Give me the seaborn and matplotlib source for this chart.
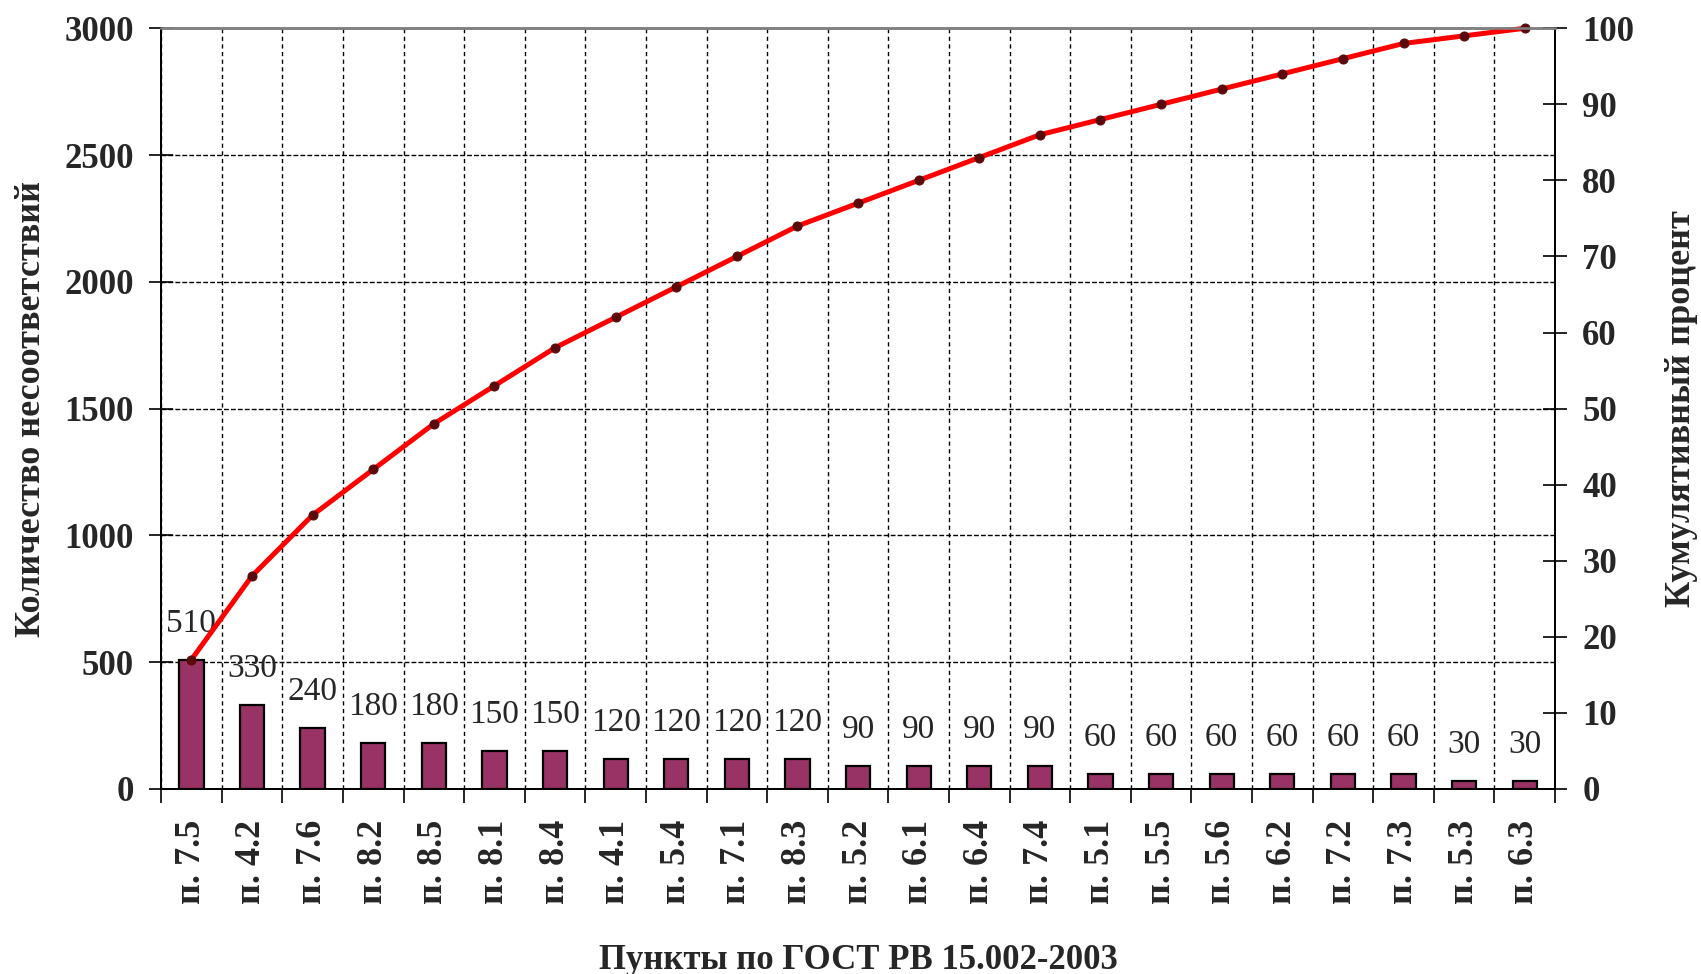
import numpy as np
import pandas as pd
import matplotlib
matplotlib.use("Agg")
import matplotlib.pyplot as plt
import seaborn as sns

# Pareto data: clauses of GOST RV 15.002-2003
items = ["п. 7.5", "п. 4.2", "п. 7.6", "п. 8.2", "п. 8.5", "п. 8.1", "п. 8.4", "п. 4.1",
         "п. 5.4", "п. 7.1", "п. 8.3", "п. 5.2", "п. 6.1", "п. 6.4", "п. 7.4", "п. 5.1",
         "п. 5.5", "п. 5.6", "п. 6.2", "п. 7.2", "п. 7.3", "п. 5.3", "п. 6.3"]
counts = [510, 330, 240, 180, 180, 150, 150, 120, 120, 120, 120, 90, 90, 90, 90,
          60, 60, 60, 60, 60, 60, 30, 30]
cum_pct = [17, 28, 36, 42, 48, 53, 58, 62, 66, 70, 74, 77, 80, 83, 86, 88, 90,
           92, 94, 96, 98, 99, 100]
left_ticks = [0, 500, 1000, 1500, 2000, 2500, 3000]
right_ticks = [0, 10, 20, 30, 40, 50, 60, 70, 80, 90, 100]

df = pd.DataFrame({"item": items, "count": counts})
n = len(items)

sns.set_theme(style="white")
plt.rcParams["font.family"] = ["Liberation Serif", "DejaVu Serif"]

fig = plt.figure(figsize=(17.01, 9.74), dpi=100)
ax = fig.add_axes([0.0947, 0.19, 0.8195, 0.781])

sns.barplot(data=df, x="item", y="count", ax=ax, color="#993366", saturation=1,
            width=0.4, edgecolor="black", linewidth=1.6)
ax.bar_label(ax.containers[0], labels=[str(c) for c in counts], padding=15,
             fontsize=24)

ax.set_xlim(-0.5, n - 0.5)
ax.set_ylim(0, 3000)
ax.set_yticks(left_ticks)
ax.set_xticks(np.arange(-0.5, n, 1), minor=True)
ax.set_xticks(range(n))
ax.set_xticklabels(items, rotation=90, fontweight="bold", fontsize=26)
ax.tick_params(axis="x", which="major", length=0, pad=22)
ax.tick_params(axis="x", which="minor", length=10, width=1.2, direction="out",
               color="black", bottom=True)
ax.tick_params(axis="y", which="major", length=17, width=1.2, direction="inout",
               color="black", left=True, pad=11, labelsize=25)
for lab in ax.get_yticklabels():
    lab.set_fontweight("bold")

ax.set_axisbelow(True)
ax.grid(axis="x", which="minor", color="black", linestyle=(0, (3, 2.5)), linewidth=1)
ax.grid(axis="y", which="major", color="black", linestyle=(0, (3.5, 1.5)), linewidth=1)
ax.grid(axis="x", which="major", visible=False)

ax.set_xlabel("Пункты по ГОСТ РВ 15.002-2003", fontsize=25, fontweight="bold")
ax.xaxis.set_label_coords(0.5, -0.204)
ax.set_ylabel("Количество несоответствий", fontsize=26, fontweight="bold")
ax.yaxis.set_label_coords(-0.081, 0.5)

for s in ["left", "bottom"]:
    ax.spines[s].set_color("black")
    ax.spines[s].set_linewidth(1.4)
ax.spines["top"].set_color("#808080")
ax.spines["top"].set_linewidth(1.8)

# cumulative percentage on the secondary axis
ax2 = ax.twinx()
sns.lineplot(x=np.arange(n), y=cum_pct, ax=ax2, color="#ff0000", linewidth=3.6,
             marker="o", markersize=6.5, markerfacecolor="#5a0a0a",
             markeredgecolor="#5a0a0a", clip_on=False)
ax2.set_ylim(0, 100)
ax2.set_yticks(right_ticks)
ax2.tick_params(axis="y", length=17, width=1.2, direction="inout", color="black",
                right=True, pad=11, labelsize=25)
for lab in ax2.get_yticklabels():
    lab.set_fontweight("bold")
ax2.set_ylabel("Кумулятивный процент", fontsize=26, fontweight="bold")
ax2.yaxis.set_label_coords(1.079, 0.5)
ax2.spines["right"].set_color("black")
ax2.spines["right"].set_linewidth(1.4)
ax2.spines["top"].set_color("#808080")
ax2.spines["top"].set_linewidth(1.8)
ax2.spines["left"].set_color("black")
ax2.spines["left"].set_linewidth(1.4)
ax2.spines["bottom"].set_color("black")
ax2.spines["bottom"].set_linewidth(1.4)
ax.set_xlim(-0.5, n - 0.5)

fig.savefig("out.png", dpi=100)
